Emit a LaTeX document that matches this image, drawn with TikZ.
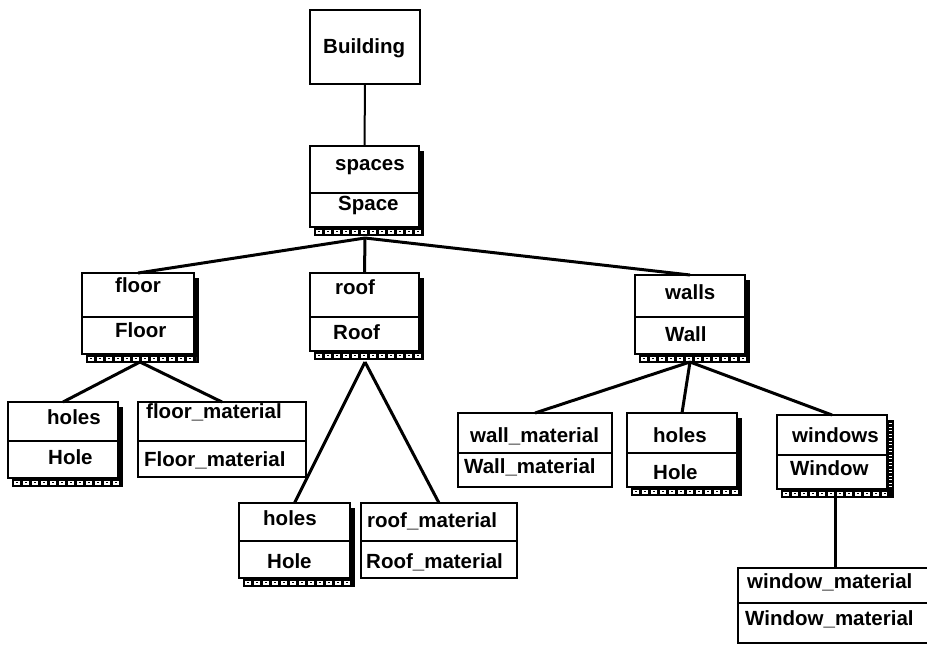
\documentclass[tikz,border=0pt]{standalone}
\usepackage{fontspec}
\setmainfont{Liberation Sans}
\newcommand\mvdeco[1]{%
  \fill ([xshift=-0.5pt,yshift=-5pt]#1.north east) rectangle ([xshift=4.5pt,yshift=-9pt]#1.south east);
  \fill ([xshift=4pt,yshift=0.5pt]#1.south west) rectangle ([xshift=4.5pt,yshift=-9pt]#1.south east);
  \draw[white, line width=3.4pt, dash pattern=on 6pt off 3pt] ([xshift=6pt,yshift=-4.8pt]#1.south west) -- ([xshift=2pt,yshift=-4.8pt]#1.south east);
  \draw[black, line width=1.1pt, dash pattern=on 2.5pt off 6.5pt, dash phase=7.25pt] ([xshift=6pt,yshift=-4.8pt]#1.south west) -- ([xshift=2pt,yshift=-4.8pt]#1.south east);
}
\begin{document}
\begin{tikzpicture}[x=1pt,y=-1pt,
  obj/.style={draw, line width=2.6pt, inner sep=0pt, outer sep=0pt, fill=white},
  lbl/.style={anchor=base west, inner sep=0pt, font=\bfseries\fontsize{20.5}{24}\selectfont},
  edge/.style={line width=3pt},
  div/.style={line width=2pt}]
\path[use as bounding box, fill=white] (0,0) rectangle (927,645);
\clip (0,0) rectangle (927,645);
% boxes
\node[obj, minimum width=110pt, minimum height=74pt] (bld) at (365,47) {};
\node[obj, minimum width=109pt, minimum height=81pt] (spaces) at (364.5,186.5) {};
\node[obj, minimum width=112pt, minimum height=81pt] (floor) at (138,313.5) {};
\node[obj, minimum width=109pt, minimum height=78pt] (roof) at (364.5,312) {};
\node[obj, minimum width=110pt, minimum height=79pt] (walls) at (690,314.5) {};
\node[obj, minimum width=110pt, minimum height=76pt] (holesA) at (63,440) {};
\node[obj, minimum width=168pt, minimum height=75pt] (floormat) at (222,439.5) {};
\node[obj, minimum width=111pt, minimum height=75pt] (holesB) at (294.5,540.5) {};
\node[obj, minimum width=156pt, minimum height=75pt] (roofmat) at (439,540.5) {};
\node[obj, minimum width=154pt, minimum height=74pt] (wallmat) at (535,450) {};
\node[obj, minimum width=110pt, minimum height=74pt] (holesC) at (682,450) {};
\node[obj, minimum width=110pt, minimum height=74pt] (windows) at (832,452) {};
\node[obj, minimum width=194pt, minimum height=75pt] (winmat) at (835,605.5) {};
% dividers
\draw[div] (spaces.west |- 0,193) -- (spaces.east |- 0,193);
\draw[div] (floor.west |- 0,317) -- (floor.east |- 0,317);
\draw[div] (roof.west |- 0,317) -- (roof.east |- 0,317);
\draw[div] (walls.west |- 0,317) -- (walls.east |- 0,317);
\draw[div] (holesA.west |- 0,441) -- (holesA.east |- 0,441);
\draw[div] (floormat.west |- 0,441) -- (floormat.east |- 0,441);
\draw[div] (holesB.west |- 0,541) -- (holesB.east |- 0,541);
\draw[div] (roofmat.west |- 0,541) -- (roofmat.east |- 0,541);
\draw[div] (wallmat.west |- 0,453) -- (wallmat.east |- 0,453);
\draw[div] (holesC.west |- 0,453) -- (holesC.east |- 0,453);
\draw[div] (windows.west |- 0,455) -- (windows.east |- 0,455);
\draw[div] (winmat.west |- 0,603) -- (winmat.east |- 0,603);
% multi-valued decorations
\mvdeco{spaces}
\mvdeco{floor}
\mvdeco{roof}
\mvdeco{walls}
\mvdeco{holesA}
\mvdeco{holesB}
\mvdeco{holesC}
\mvdeco{windows}
\fill ([xshift=-0.5pt,yshift=-5pt]windows.north east) rectangle ([xshift=7pt,yshift=-9pt]windows.south east);
\draw[white, line width=3pt, dash pattern=on 1.2pt off 2.3pt] ([xshift=3.5pt,yshift=-8pt]windows.north east) -- ([xshift=3.5pt,yshift=2pt]windows.south east);
% labels
\node[lbl] (tBld) at (323,53) {Building};
\node[lbl] (tSp1) at (335,170) {spaces};
\node[lbl] (tSp2) at (338,210) {Space};
\node[lbl] (tFl1) at (115,292) {floor};
\node[lbl] (tFl2) at (115,337) {Floor};
\node[lbl] (tRf1) at (335,294) {roof};
\node[lbl] (tRf2) at (333,339) {Roof};
\node[lbl] (tWl1) at (665,299) {walls};
\node[lbl] (tWl2) at (665,341) {Wall};
\node[lbl] (tHA1) at (47,424) {holes};
\node[lbl] (tHA2) at (48,464) {Hole};
\node[lbl] (tFm1) at (146,418) {floor\_material};
\node[lbl] (tFm2) at (144,466) {Floor\_material};
\node[lbl] (tHB1) at (263,525) {holes};
\node[lbl] (tHB2) at (267,568) {Hole};
\node[lbl] (tRm1) at (367,527) {roof\_material};
\node[lbl] (tRm2) at (366,568) {Roof\_material};
\node[lbl] (tWm1) at (470,442) {wall\_material};
\node[lbl] (tWm2) at (464,473) {Wall\_material};
\node[lbl] (tHC1) at (653,442) {holes};
\node[lbl] (tHC2) at (653,479) {Hole};
\node[lbl] (tWn1) at (792,442) {windows};
\node[lbl] (tWn2) at (790,475) {Window};
\node[lbl] (tWx1) at (747,588) {window\_material};
\node[lbl] (tWx2) at (745,625) {Window\_material};
% connectors
\coordinate (sfan) at (365,238);
\coordinate (ffan) at (140,362);
\coordinate (rfan) at (365,362);
\coordinate (wfan) at (690,362);
\coordinate (nfan) at (835,498);
\draw[line width=2pt] (bld.south) -- (spaces.north);
\draw[edge] (sfan) -- (floor.north);
\draw[edge] (sfan) -- (roof.north);
\draw[edge] (sfan) -- (walls.north);
\draw[edge] (ffan) -- (holesA.north);
\draw[edge] (ffan) -- (floormat.north);
\draw[edge] (rfan) -- (holesB.north);
\draw[edge] (rfan) -- (roofmat.north);
\draw[edge] (wfan) -- (wallmat.north);
\draw[edge] (wfan) -- (holesC.north);
\draw[edge] (wfan) -- (windows.north);
\draw[edge] (nfan) -- (winmat.north);
\end{tikzpicture}
\end{document}
